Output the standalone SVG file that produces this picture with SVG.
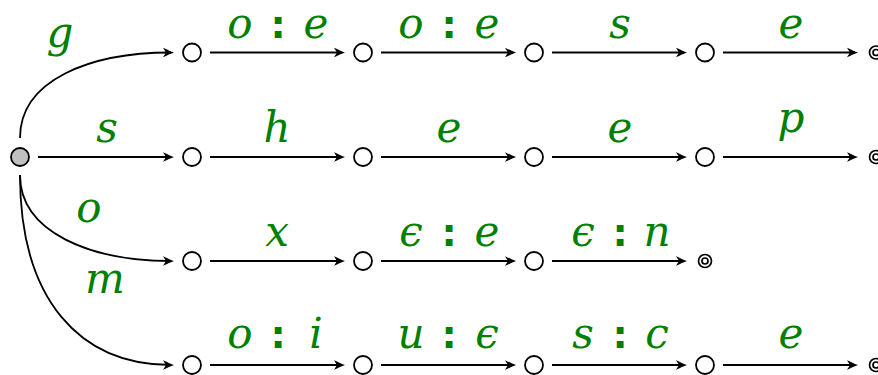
<svg xmlns="http://www.w3.org/2000/svg" width="878" height="375" viewBox="0 0 878 375">
<style>
.n{fill:#fff;stroke:#000;stroke-width:1.8}
.s{fill:#c0c0c0;stroke:#000;stroke-width:1.8}
.f{fill:#fff;stroke:#000;stroke-width:1.7}
.e{fill:none;stroke:#000;stroke-width:1.8;marker-end:url(#ah)}
.l{font-family:"DejaVu Serif","Liberation Serif",serif;font-style:italic;font-size:42px;fill:#008000;text-anchor:middle}
.c{font-family:"DejaVu Sans","Liberation Sans",sans-serif;font-style:normal;font-weight:bold;font-size:38px}
</style>
<defs>
<marker id="ah" markerUnits="userSpaceOnUse" viewBox="-12 -6 13 12" markerWidth="13" markerHeight="12" refX="-3" refY="0" orient="auto">
<path d="M0,0 C-3,-1 -7,-3 -11,-4.8 L-8,0 L-11,4.8 C-7,3 -3,1 0,0 Z" fill="#000"/>
</marker>
</defs>
<g id="connectors">
<path class="e" d="M20,138 C20,80 90,52.5 171,52.5"/>
<path class="e" d="M38,157 L171,157"/>
<path class="e" d="M20,175 C20,232 90,261 171,261"/>
<path class="e" d="M20,175 C20,300 80,365 171,365"/>
<path class="e" d="M210,52.5 L342,52.5"/>
<path class="e" d="M381,52.5 L513,52.5"/>
<path class="e" d="M552,52.5 L684,52.5"/>
<path class="e" d="M723,52.5 L855,52.5"/>
<path class="e" d="M210,157 L342,157"/>
<path class="e" d="M381,157 L513,157"/>
<path class="e" d="M552,157 L684,157"/>
<path class="e" d="M723,157 L855,157"/>
<path class="e" d="M210,261 L342,261"/>
<path class="e" d="M381,261 L513,261"/>
<path class="e" d="M552,261 L684,261"/>
<path class="e" d="M210,365 L342,365"/>
<path class="e" d="M381,365 L513,365"/>
<path class="e" d="M552,365 L684,365"/>
<path class="e" d="M723,365 L855,365"/>
</g>
<g id="labels">
<text class="l" x="60" y="47">g</text>
<text class="l" x="107" y="142">s</text>
<text class="l" x="89" y="222">o</text>
<text class="l" x="105" y="293">m</text>
<text class="l"><tspan x="240" y="38">o</tspan><tspan class="c" x="278" y="38">:</tspan><tspan x="316" y="38">e</tspan></text>
<text class="l"><tspan x="411" y="38">o</tspan><tspan class="c" x="449" y="38">:</tspan><tspan x="487" y="38">e</tspan></text>
<text class="l" x="620" y="38">s</text>
<text class="l" x="791" y="38">e</text>
<text class="l" x="277" y="142">h</text>
<text class="l" x="449" y="142">e</text>
<text class="l" x="620" y="142">e</text>
<text class="l" x="791" y="132">p</text>
<text class="l" x="277" y="246">x</text>
<text class="l"><tspan x="411" y="246">ϵ</tspan><tspan class="c" x="449" y="246">:</tspan><tspan x="487" y="246">e</tspan></text>
<text class="l"><tspan x="583" y="246">ϵ</tspan><tspan class="c" x="620" y="246">:</tspan><tspan x="657" y="246">n</tspan></text>
<text class="l"><tspan x="240" y="348">o</tspan><tspan class="c" x="278" y="348">:</tspan><tspan x="316" y="348">i</tspan></text>
<text class="l"><tspan x="411" y="348">u</tspan><tspan class="c" x="449" y="348">:</tspan><tspan x="487" y="348">ϵ</tspan></text>
<text class="l"><tspan x="583" y="348">s</tspan><tspan class="c" x="620" y="348">:</tspan><tspan x="657" y="348">c</tspan></text>
<text class="l" x="791" y="348">e</text>
</g>
<g id="q0"><circle class="s" cx="20" cy="157" r="9"/></g>
<g id="q1"><circle class="n" cx="192" cy="52.5" r="9"/></g>
<g id="q2"><circle class="n" cx="363" cy="52.5" r="9"/></g>
<g id="q3"><circle class="n" cx="534" cy="52.5" r="9"/></g>
<g id="q4"><circle class="n" cx="705" cy="52.5" r="9"/></g>
<g id="q5"><circle class="f" cx="876" cy="52.5" r="6.5"/><circle class="f" cx="876" cy="52.5" r="3"/></g>
<g id="q6"><circle class="n" cx="192" cy="157" r="9"/></g>
<g id="q7"><circle class="n" cx="363" cy="157" r="9"/></g>
<g id="q8"><circle class="n" cx="534" cy="157" r="9"/></g>
<g id="q9"><circle class="n" cx="705" cy="157" r="9"/></g>
<g id="q10"><circle class="f" cx="876" cy="157" r="6.5"/><circle class="f" cx="876" cy="157" r="3"/></g>
<g id="q11"><circle class="n" cx="192" cy="261" r="9"/></g>
<g id="q12"><circle class="n" cx="363" cy="261" r="9"/></g>
<g id="q13"><circle class="n" cx="534" cy="261" r="9"/></g>
<g id="q14"><circle class="f" cx="705" cy="261" r="6.5"/><circle class="f" cx="705" cy="261" r="3"/></g>
<g id="q15"><circle class="n" cx="192" cy="365" r="9"/></g>
<g id="q16"><circle class="n" cx="363" cy="365" r="9"/></g>
<g id="q17"><circle class="n" cx="534" cy="365" r="9"/></g>
<g id="q18"><circle class="n" cx="705" cy="365" r="9"/></g>
<g id="q19"><circle class="f" cx="876" cy="365" r="6.5"/><circle class="f" cx="876" cy="365" r="3"/></g>
</svg>
